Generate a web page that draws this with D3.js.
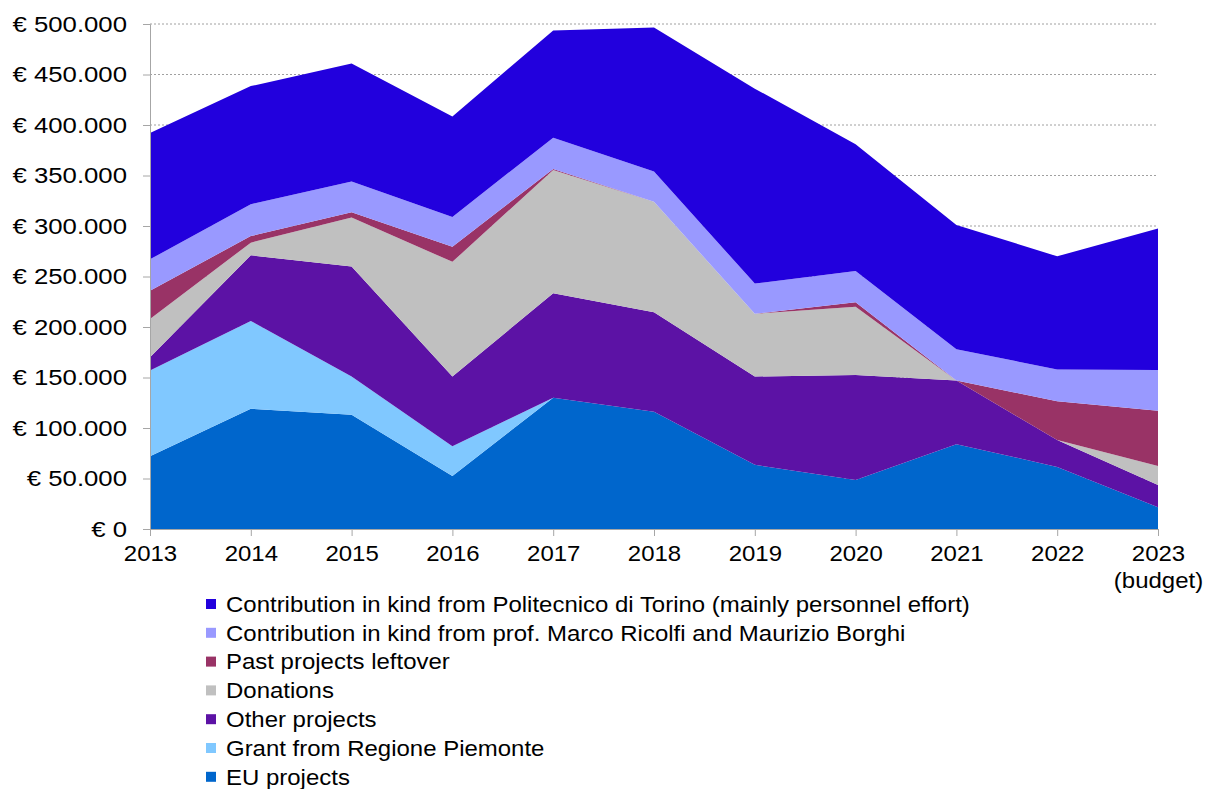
<!DOCTYPE html>
<html>
<head>
<meta charset="utf-8">
<script src="https://cdn.jsdelivr.net/npm/d3@7"></script>
<style>
  body { margin: 0; background: #fff; }
  svg { display: block; font-family: "Liberation Sans", Arial, sans-serif; }
</style>
</head>
<body>
<div id="chart"></div>
<script>
// values (euro per year)
const years = ["2013", "2014", "2015", "2016", "2017", "2018", "2019", "2020", "2021", "2022", "2023"];
const euProjects     = [72000, 119000, 113000, 52500, 130000, 116000, 63500, 48500, 84000, 61500, 21500];
const grantPiemonte  = [85000, 87000, 38000, 29500, 0, 0, 0, 0, 0, 0, 0];
const otherProjects  = [13000, 65000, 109000, 69000, 103500, 98500, 87500, 104000, 63000, 26500, 22000];
const donations      = [38000, 12500, 48500, 113500, 122000, 109500, 62000, 67500, 0, 0, 19000];
const pastLeftover   = [28000, 6500, 5000, 15000, 1000, 0, 0, 4500, 0, 38500, 54500];
const contribProf    = [31000, 31500, 30500, 29500, 31000, 30000, 30000, 31000, 31000, 31500, 40500];
const contribPolito  = [125000, 117000, 117000, 99500, 106000, 142500, 193000, 125500, 123000, 112000, 140000];

// series bottom to top
const seriesNames = [
  "EU projects",
  "Grant from Regione Piemonte",
  "Other projects",
  "Donations",
  "Past projects leftover",
  "Contribution in kind from prof. Marco Ricolfi and Maurizio Borghi",
  "Contribution in kind from Politecnico di Torino (mainly personnel effort)"
];
const seriesValues = [euProjects, grantPiemonte, otherProjects, donations, pastLeftover, contribProf, contribPolito];
const seriesColors = ["#0066CC", "#80C8FF", "#5C12A5", "#C0C0C0", "#993366", "#9999FF", "#2200DD"];

const width = 1215, height = 789;
const svg = d3.select("#chart").append("svg")
  .attr("width", width)
  .attr("height", height);

// one row per year for d3.stack
const table = years.map((y, i) => {
  const row = { year: y };
  seriesNames.forEach((n, k) => row[n] = seriesValues[k][i]);
  return row;
});
const stacked = d3.stack().keys(seriesNames)(table);

const x = d3.scalePoint().domain(years).range([150, 1158]);
const y = d3.scaleLinear().domain([0, 500000]).range([529, 24]);

const locale = d3.formatLocale({ decimal: ",", thousands: ".", grouping: [3], currency: ["€ ", ""] });
const fmt = locale.format("$,.0f");

// text in the reference is a bit wider than Liberation Sans
const stretchY = 1.17, stretchX = 1.09;

// gridlines (behind areas)
svg.append("g")
  .selectAll("line")
  .data(y.ticks(10).filter(d => d > 0))
  .join("line")
  .attr("x1", 150).attr("x2", 1158)
  .attr("y1", d => y(d)).attr("y2", d => y(d))
  .attr("stroke", "#a0a0a0")
  .attr("stroke-width", 1)
  .attr("stroke-dasharray", "2,2");

const area = d3.area()
  .x(d => x(d.data.year))
  .y0(d => y(d[0]))
  .y1(d => y(d[1]));

svg.append("g")
  .selectAll("path")
  .data(stacked)
  .join("path")
  .attr("d", area)
  .attr("fill", (d, i) => seriesColors[i]);

// y axis
const yAxis = svg.append("g")
  .attr("transform", "translate(150,0)")
  .call(d3.axisLeft(y).ticks(10).tickSize(7).tickPadding(16).tickFormat(fmt));
yAxis.select(".domain").attr("stroke", "#a6a6a6");
yAxis.selectAll(".tick line").attr("stroke", "#a6a6a6");
yAxis.selectAll(".tick text")
  .attr("font-size", 22)
  .attr("fill", "#000")
  .attr("font-family", "Liberation Sans, Arial, sans-serif")
  .attr("x", -23 / stretchY)
  .attr("transform", `scale(${stretchY},1)`);

// x axis
const xAxis = svg.append("g")
  .attr("transform", "translate(0,529)")
  .call(d3.axisBottom(x).tickSize(7).tickPadding(9));
xAxis.select(".domain").attr("stroke", "#a6a6a6");
xAxis.selectAll(".tick line").attr("stroke", "#a6a6a6");
xAxis.selectAll(".tick text")
  .attr("font-size", 22)
  .attr("fill", "#000")
  .attr("font-family", "Liberation Sans, Arial, sans-serif")
  .attr("transform", `scale(${stretchX},1)`);
xAxis.selectAll(".tick").filter(d => d === "2023")
  .append("text")
  .attr("y", 59)
  .attr("fill", "#000")
  .attr("font-size", 22)
  .attr("font-family", "Liberation Sans, Arial, sans-serif")
  .attr("text-anchor", "middle")
  .attr("transform", `scale(${stretchX},1)`)
  .text("(budget)");

// legend, top to bottom in reverse stacking order
const legendOrder = d3.range(seriesNames.length).reverse();
const legend = svg.append("g").attr("transform", "translate(206,604)");
const item = legend.selectAll("g")
  .data(legendOrder)
  .join("g")
  .attr("transform", (d, i) => `translate(0,${i * 28.8})`);
item.append("rect")
  .attr("x", 0).attr("y", -5)
  .attr("width", 10).attr("height", 10)
  .attr("fill", d => seriesColors[d]);
item.append("text")
  .attr("transform", `translate(20,0) scale(${stretchX},1)`)
  .attr("dy", "0.35em")
  .attr("font-size", 22)
  .attr("fill", "#000")
  .text(d => seriesNames[d]);
</script>
</body>
</html>
